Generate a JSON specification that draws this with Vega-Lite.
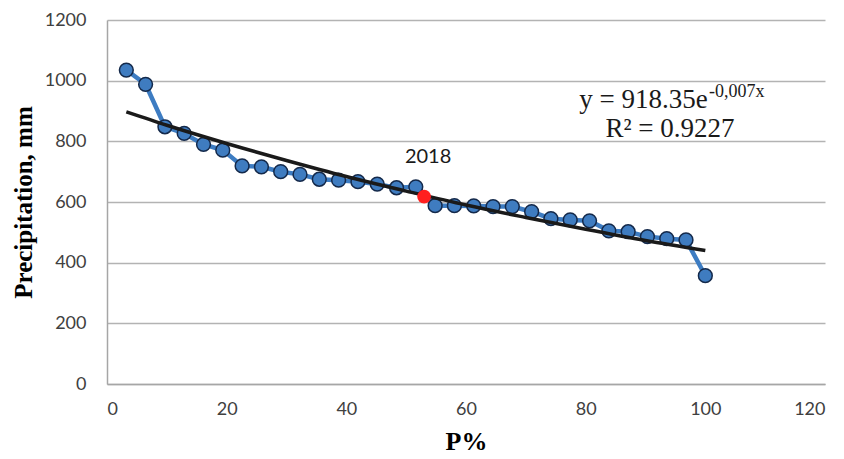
{
  "$schema": "https://vega.github.io/schema/vega-lite/v6.json",
  "width": 718,
  "height": 364,
  "autosize": {"type": "none"},
  "padding": {"left": 107, "top": 20, "right": 19, "bottom": 75},
  "background": "white",
  "config": {"view": {"stroke": null}},
  "datasets": {
    "obs": [
      {"P": 3.23, "mm": 1035}, {"P": 6.45, "mm": 988}, {"P": 9.68, "mm": 848}, {"P": 12.9, "mm": 826},
      {"P": 16.13, "mm": 790}, {"P": 19.35, "mm": 771}, {"P": 22.58, "mm": 719}, {"P": 25.81, "mm": 716},
      {"P": 29.03, "mm": 700}, {"P": 32.26, "mm": 691}, {"P": 35.48, "mm": 675}, {"P": 38.71, "mm": 672},
      {"P": 41.94, "mm": 667}, {"P": 45.16, "mm": 659}, {"P": 48.39, "mm": 647}, {"P": 51.61, "mm": 650},
      {"P": 54.84, "mm": 588}, {"P": 58.06, "mm": 588}, {"P": 61.29, "mm": 587}, {"P": 64.52, "mm": 585},
      {"P": 67.74, "mm": 585}, {"P": 70.97, "mm": 568}, {"P": 74.19, "mm": 545}, {"P": 77.42, "mm": 541},
      {"P": 80.65, "mm": 538}, {"P": 83.87, "mm": 505}, {"P": 87.1, "mm": 502}, {"P": 90.32, "mm": 486},
      {"P": 93.55, "mm": 479}, {"P": 96.77, "mm": 475}, {"P": 100, "mm": 357}
    ],
    "trend": [
      {"P": 3.23, "mm": 897}, {"P": 10, "mm": 853}, {"P": 20, "mm": 793}, {"P": 30, "mm": 737},
      {"P": 40, "mm": 684}, {"P": 50, "mm": 636}, {"P": 60, "mm": 590}, {"P": 70, "mm": 549},
      {"P": 80, "mm": 510}, {"P": 90, "mm": 473}, {"P": 100, "mm": 440}
    ],
    "highlight": [{"P": 53.0, "mm": 618, "label": "2018"}],
    "notes": [
      {"P": 100.4, "mm": 910, "text": "y = 918.35e", "kind": "main"},
      {"P": 100.6, "mm": 946, "text": "-0,007x", "kind": "sup"},
      {"P": 94.1, "mm": 814, "text": "R² = 0.9227", "kind": "r2"}
    ]
  },
  "encoding": {
    "x": {
      "field": "P", "type": "quantitative",
      "scale": {"domain": [0, 120], "nice": false, "zero": false},
      "axis": {
        "title": "P%", "values": [0, 20, 40, 60, 80, 100, 120], "format": "d",
        "grid": false, "ticks": false, "domainColor": "#a6a6a6", "domainWidth": 1.5,
        "labelFont": "Lato", "labelFontSize": 18, "labelColor": "#404040", "labelPadding": 16,
        "titleFont": "Liberation Serif", "titleFontSize": 26, "titleFontWeight": "bold",
        "titleColor": "#000000", "titlePadding": 10
      }
    },
    "y": {
      "field": "mm", "type": "quantitative",
      "scale": {"domain": [0, 1200], "nice": false},
      "axis": {
        "title": "Precipitation, mm", "values": [0, 200, 400, 600, 800, 1000, 1200], "format": "d",
        "grid": true, "gridColor": "#b3b3b3", "gridWidth": 1.5,
        "ticks": false, "domainColor": "#a6a6a6", "domainWidth": 1.5,
        "labelFont": "Lato", "labelFontSize": 18, "labelColor": "#404040", "labelPadding": 21,
        "titleFont": "Liberation Serif", "titleFontSize": 25, "titleFontWeight": "bold",
        "titleColor": "#000000", "titlePadding": 8
      }
    }
  },
  "layer": [
    {
      "data": {"name": "obs"},
      "mark": {"type": "line", "color": "#3d7cc2", "strokeWidth": 4.5},
      "encoding": {}
    },
    {
      "data": {"name": "obs"},
      "mark": {"type": "point", "shape": "circle", "filled": true, "size": 190, "fill": "#3f7cc0", "stroke": "#14294a", "strokeWidth": 1.5, "opacity": 1},
      "encoding": {}
    },
    {
      "data": {"name": "trend"},
      "mark": {"type": "line", "color": "#1a1a1a", "strokeWidth": 3.5, "interpolate": "monotone"},
      "encoding": {}
    },
    {
      "data": {"name": "highlight"},
      "mark": {"type": "point", "shape": "circle", "filled": true, "size": 190, "fill": "#ff1f1f", "opacity": 1},
      "encoding": {}
    },
    {
      "data": {"name": "highlight"},
      "mark": {"type": "text", "font": "Lato", "fontSize": 20, "color": "#1a1a1a", "dy": -40, "dx": 4},
      "encoding": {"text": {"field": "label"}}
    },
    {
      "data": {"name": "notes"},
      "transform": [{"filter": "datum.kind === 'main'"}],
      "mark": {"type": "text", "font": "Liberation Serif", "fontSize": 27, "align": "right", "baseline": "alphabetic", "color": "#1a1a1a"},
      "encoding": {"text": {"field": "text"}}
    },
    {
      "data": {"name": "notes"},
      "transform": [{"filter": "datum.kind === 'sup'"}],
      "mark": {"type": "text", "font": "Liberation Serif", "fontSize": 18, "align": "left", "baseline": "alphabetic", "color": "#1a1a1a"},
      "encoding": {"text": {"field": "text"}}
    },
    {
      "data": {"name": "notes"},
      "transform": [{"filter": "datum.kind === 'r2'"}],
      "mark": {"type": "text", "font": "Liberation Serif", "fontSize": 27, "align": "center", "baseline": "alphabetic", "color": "#1a1a1a"},
      "encoding": {"text": {"field": "text"}}
    }
  ]
}
